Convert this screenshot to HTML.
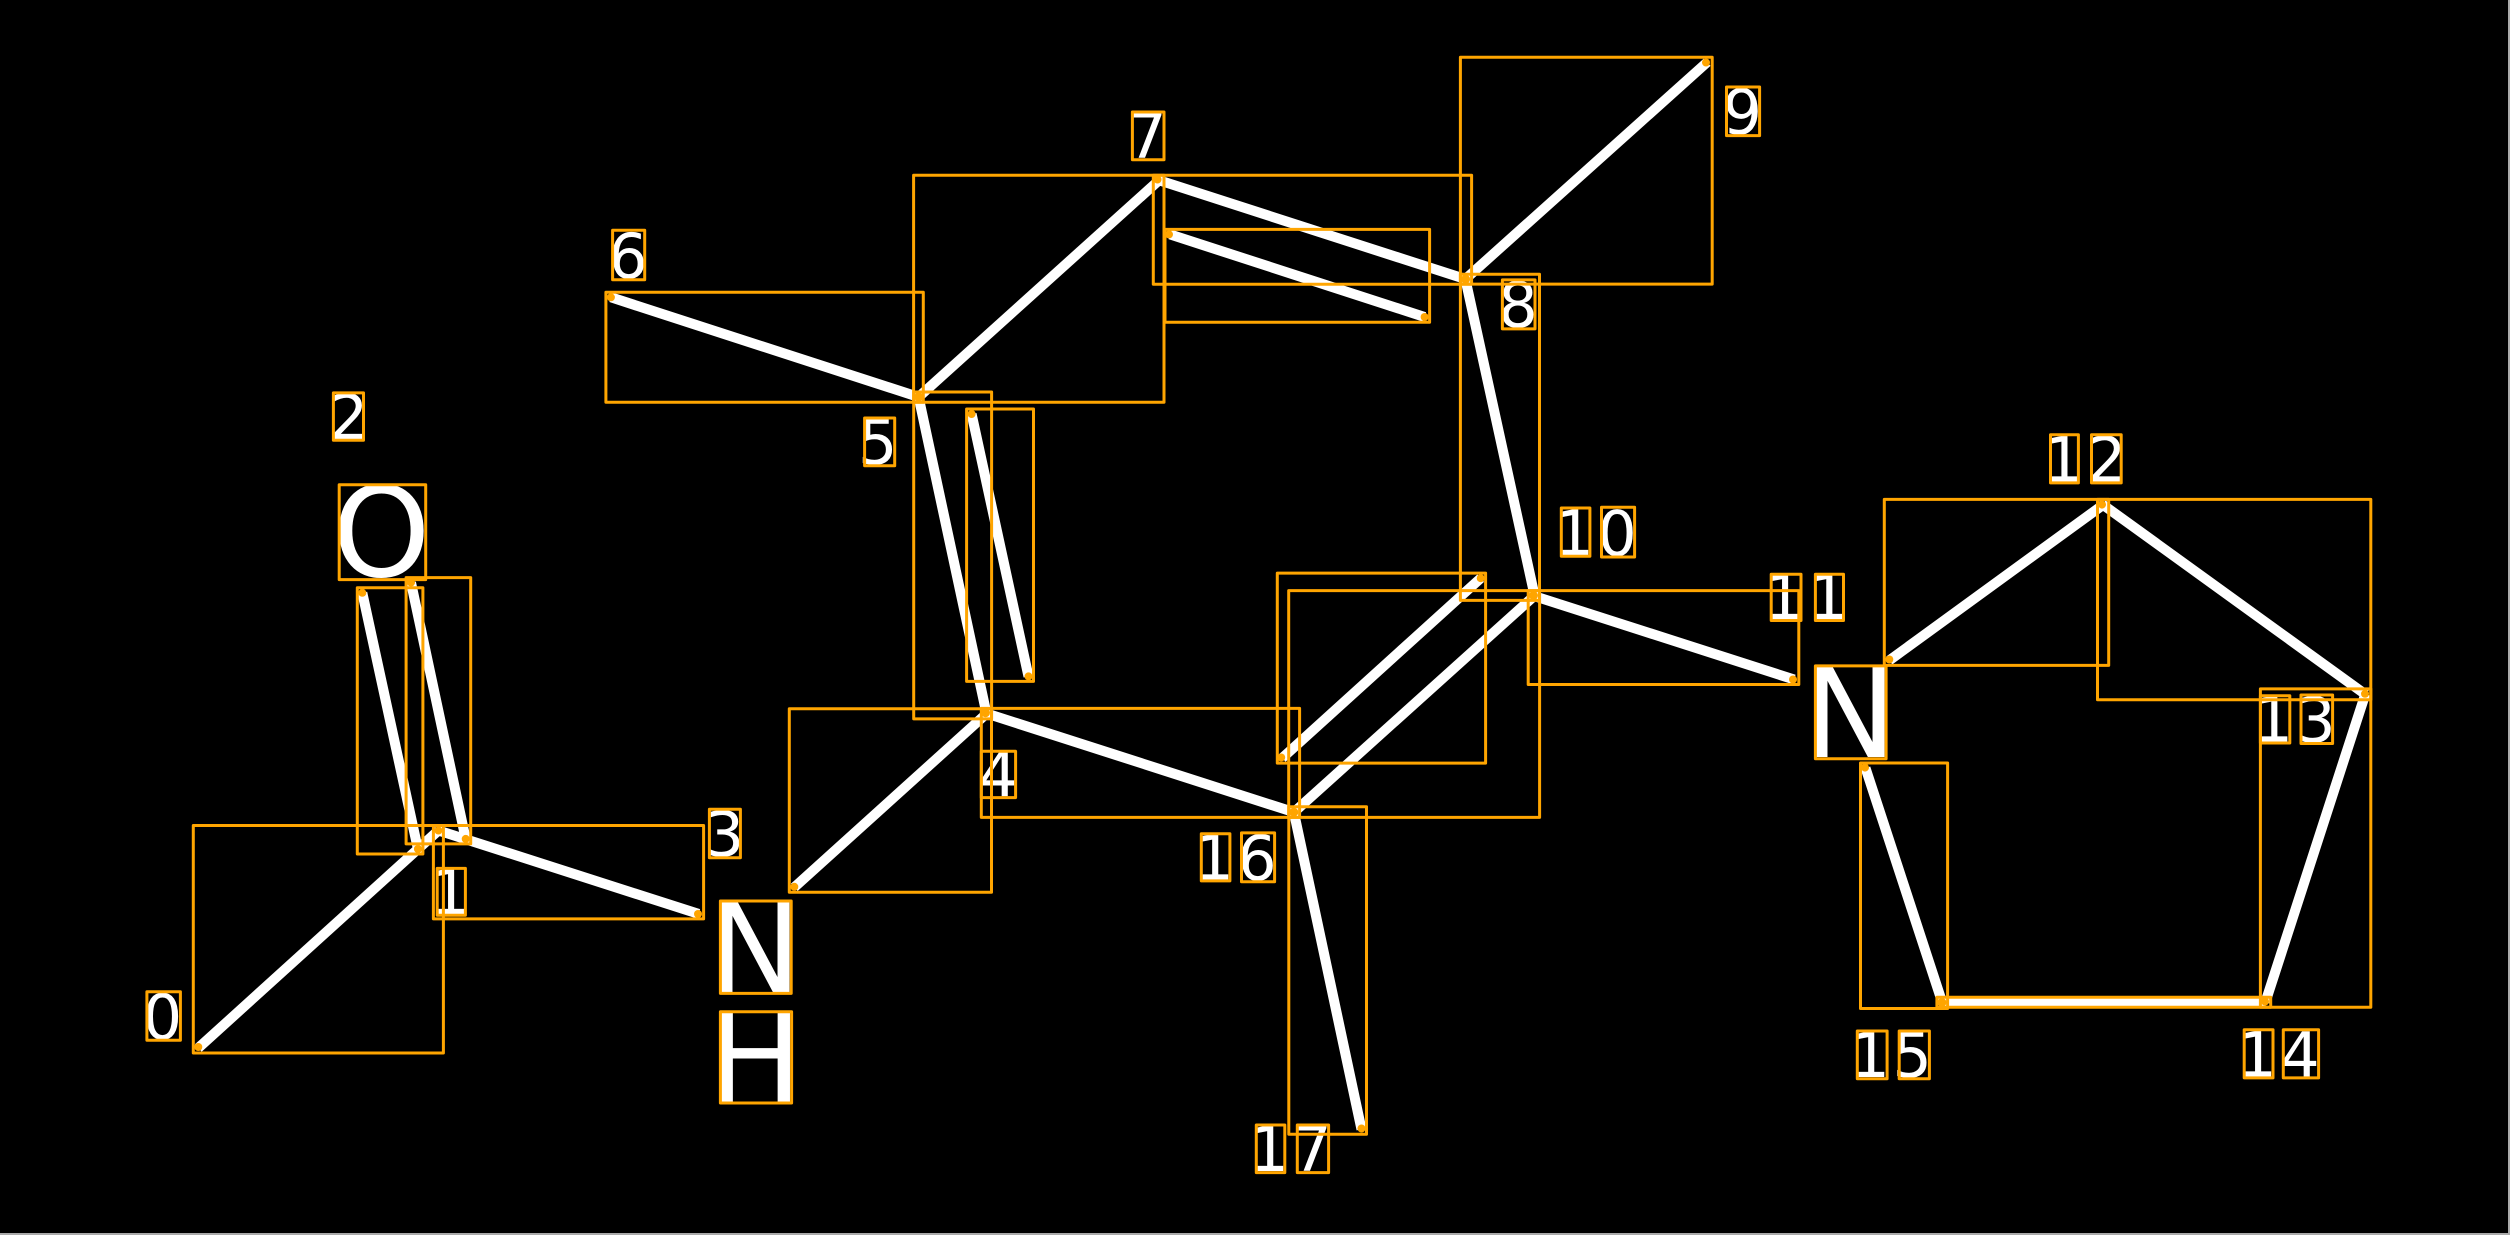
<!DOCTYPE html>
<html><head><meta charset="utf-8"><style>
html,body{margin:0;padding:0;background:#000;width:2510px;height:1235px;overflow:hidden}
svg{display:block}
text{font-family:"DejaVu Sans",sans-serif;fill:#fff}
.d{font-size:62px}.l{font-size:125px}
</style></head><body>
<svg width="2510" height="1235" viewBox="0 0 2510 1235" xmlns="http://www.w3.org/2000/svg">
<rect width="2510" height="1235" fill="#000"/>
<path d="M2509 0V1234H0" fill="none" stroke="#aaa" stroke-width="2"/>
<g stroke="#fff" stroke-width="10" fill="none">
<path d="M198.3 1048L438.4 830.5M438.4 830.5L698.6 913.9M362.3 592.8L417.9 849M411 582.6L465.7 838.9M794.3 887.3L986.5 713.7M986.5 713.7L918.6 397M971.6 414L1028.5 676.4M918.6 397L610.9 297.3M918.6 397L1159 180.3M1159 180.3L1466 279.3M1170 234.4L1424.6 317M1465.4 279.1L1707.2 62.2M1465.4 279.2L1534.5 595.2M1533.2 595.7L1794.1 679.5M1534.7 595.5L1293.8 812.4M1282.2 758.1L1480.7 578.2M986.3 713.4L1294.6 812.4M1293.8 811.8L1361.5 1129.3M1889.3 660.4L2103.7 504.4M2102.5 504.4L2365.8 694.7M2365.4 693.9L2265.4 1002.2M2265.7 1002.2L1941.9 1002.2M1942.6 1003.5L1865.5 768"/>
</g>
<g>
<text class="d" x="142.8" y="1039">0</text>
<text class="d" x="430.4" y="914">1</text>
<text class="d" x="328.9" y="439">2</text>
<text class="d" x="704.7" y="856">3</text>
<text class="d" x="978.3" y="796">4</text>
<text class="d" x="858" y="464">5</text>
<text class="d" x="608.3" y="278">6</text>
<text class="d" x="1127.3" y="158">7</text>
<text class="d" x="1498.2" y="327">8</text>
<text class="d" x="1722.6" y="134">9</text>
<text class="d" x="1554.5" y="555">1</text><text class="d" x="1597.4" y="555.5">0</text>
<text class="d" x="1764.4" y="619">1</text><text class="d" x="1808.6" y="619">1</text>
<text class="d" x="2043.7" y="481.5">1</text><text class="d" x="2087" y="481.5">2</text>
<text class="d" x="2253.6" y="741.5">1</text><text class="d" x="2296.3" y="742">3</text>
<text class="d" x="2237.4" y="1076.5">1</text><text class="d" x="2280.3" y="1076.5">4</text>
<text class="d" x="1850.5" y="1077">1</text><text class="d" x="1892.5" y="1077">5</text>
<text class="d" x="1194.5" y="879.5">1</text><text class="d" x="1237.2" y="880">6</text>
<text class="d" x="1249.5" y="1171">1</text><text class="d" x="1292.2" y="1171">7</text>
<text class="l" x="332.2" y="576">O</text>
<text class="l" x="708.2" y="992">N</text>
<text class="l" x="708.2" y="1102">H</text>
<text class="l" x="1803.2" y="757">N</text>
</g>
<g fill="none" stroke="#ffa500" stroke-width="3" stroke-linejoin="round">
<rect x="193.3" y="825.5" width="250.1" height="227.5"/>
<rect x="433.4" y="825.5" width="270.2" height="93.4"/>
<rect x="357.3" y="587.8" width="65.6" height="266.2"/>
<rect x="406.1" y="577.6" width="64.6" height="266.3"/>
<rect x="789.3" y="708.7" width="202.2" height="183.6"/>
<rect x="913.7" y="392" width="77.9" height="326.9"/>
<rect x="966.6" y="409" width="66.9" height="272.4"/>
<rect x="605.9" y="292.3" width="317.4" height="110"/>
<rect x="913.6" y="175.3" width="250.4" height="227"/>
<rect x="1153.3" y="175.3" width="318.3" height="109"/>
<rect x="1165" y="229.4" width="264.6" height="92.8"/>
<rect x="1460.4" y="57.2" width="251.8" height="226.9"/>
<rect x="1460.4" y="274.2" width="79.1" height="326.2"/>
<rect x="1528.2" y="590.6" width="270.6" height="93.9"/>
<rect x="1288.7" y="590.6" width="250.9" height="226.8"/>
<rect x="1277.3" y="573.1" width="208.3" height="190"/>
<rect x="981.3" y="708.4" width="318.3" height="109"/>
<rect x="1288.8" y="806.8" width="77.7" height="327.5"/>
<rect x="1884.3" y="499.4" width="224.4" height="166"/>
<rect x="2097.5" y="499.4" width="273.3" height="200.3"/>
<rect x="2260.4" y="688.9" width="110.4" height="318.3"/>
<rect x="1936.9" y="997.2" width="333.8" height="10"/>
<rect x="1860.5" y="763" width="87.1" height="245.5"/>
<rect x="146.9" y="991.8" width="33.5" height="48.5"/>
<rect x="437.2" y="868.4" width="28.2" height="46.9"/>
<rect x="333.4" y="392.9" width="30.1" height="47.4"/>
<rect x="709.4" y="809.2" width="31" height="48.5"/>
<rect x="981.3" y="751.3" width="34.3" height="46.3"/>
<rect x="864.6" y="418" width="30.1" height="47.7"/>
<rect x="612.6" y="230.3" width="32.1" height="49.4"/>
<rect x="1132.4" y="112" width="31.6" height="47.7"/>
<rect x="1502.4" y="279.9" width="32.6" height="49"/>
<rect x="1726.5" y="87" width="33.1" height="48.6"/>
<rect x="1561.3" y="508" width="28.6" height="48.2"/>
<rect x="1601.5" y="507.2" width="33.1" height="49.8"/>
<rect x="1771.2" y="574.2" width="29.8" height="46.3"/>
<rect x="1815.4" y="574.2" width="28.1" height="46.3"/>
<rect x="2050.5" y="434.7" width="27.9" height="48.2"/>
<rect x="2091.5" y="434.7" width="29.7" height="48.2"/>
<rect x="2260.4" y="695.8" width="29.4" height="47.2"/>
<rect x="2301" y="695" width="31.6" height="48.5"/>
<rect x="2244.2" y="1029.7" width="28.8" height="48.2"/>
<rect x="2283.3" y="1029.7" width="35.3" height="48.2"/>
<rect x="1857.3" y="1031" width="29.8" height="47.7"/>
<rect x="1899.2" y="1031" width="30.2" height="47.7"/>
<rect x="1201.3" y="833.8" width="28.6" height="47.1"/>
<rect x="1241.5" y="832.9" width="33.1" height="48.9"/>
<rect x="1256.3" y="1125" width="28.5" height="47.6"/>
<rect x="1297.3" y="1125" width="31.3" height="47.6"/>
<rect x="339.2" y="484.7" width="86.5" height="94.9"/>
<rect x="720.4" y="901" width="70.8" height="92.4"/>
<rect x="720.4" y="1011.7" width="71.2" height="91.3"/>
<rect x="1815.4" y="665.9" width="70.7" height="92.8"/>
</g>
<g fill="#ffa500">
<circle cx="198.3" cy="1047" r="4"/><circle cx="438.4" cy="830.5" r="4"/><circle cx="698" cy="914" r="4"/>
<circle cx="362.3" cy="592.8" r="4"/><circle cx="417.9" cy="849" r="4"/><circle cx="411" cy="582.6" r="4"/><circle cx="465.7" cy="838.9" r="4"/>
<circle cx="794.3" cy="886.8" r="4"/><circle cx="985.5" cy="712.7" r="4.5"/><circle cx="918.6" cy="397" r="4.5"/>
<circle cx="971.6" cy="414" r="4"/><circle cx="1028.5" cy="676.4" r="4"/><circle cx="610.9" cy="297.3" r="4"/>
<circle cx="1157.5" cy="179.5" r="4"/><circle cx="1465.6" cy="279.2" r="4.5"/><circle cx="1169" cy="234.4" r="4"/><circle cx="1424.6" cy="317" r="4"/>
<circle cx="1706" cy="62.5" r="4"/><circle cx="1533.5" cy="595.5" r="4.5"/><circle cx="1793" cy="679.5" r="4"/>
<circle cx="1293.8" cy="812.2" r="4.5"/><circle cx="1281.2" cy="757.5" r="4"/><circle cx="1480.7" cy="578.2" r="4"/><circle cx="1361.5" cy="1128.5" r="4"/>
<circle cx="1889.3" cy="659.5" r="4"/><circle cx="2102" cy="504.6" r="4"/><circle cx="2365" cy="693.8" r="4"/>
<circle cx="2265" cy="1001.5" r="4"/><circle cx="1942" cy="1002.5" r="4.5"/><circle cx="1865" cy="767.6" r="4"/>
</g>
</svg>
</body></html>
